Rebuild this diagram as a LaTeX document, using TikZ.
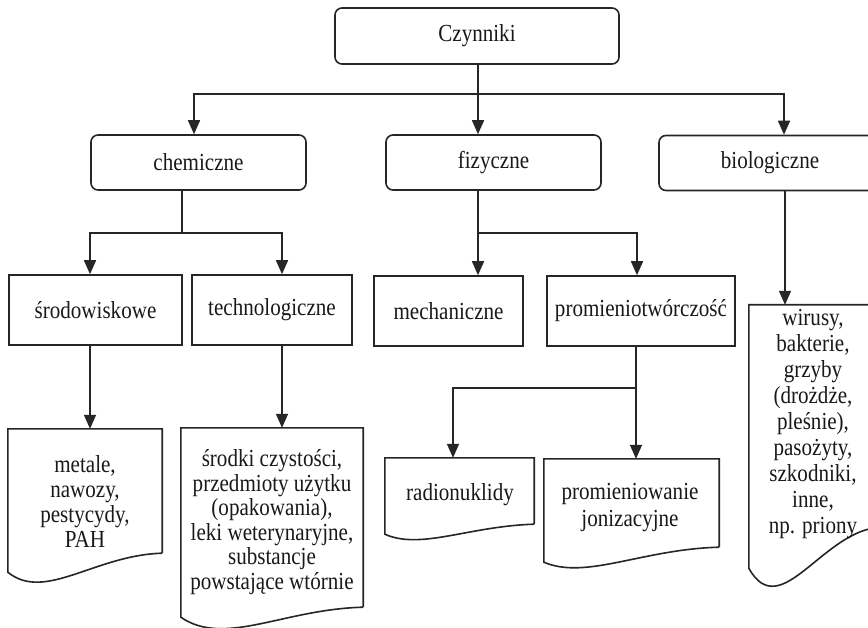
\documentclass[tikz,border=0pt]{standalone}
\usepackage{fontspec}
\setmainfont[FakeStretch=0.86]{Liberation Serif}
\usetikzlibrary{arrows.meta,calc}
\newcommand\docshape[3]{%
\draw[ln] (#1.south east) -- (#1.north east) -- (#1.north west) -- ([yshift=-#2pt]#1.south west)
  .. controls ($(#1.south west)!0.24!(#1.south east)+(0,#2+#3)$) and ($(#1.south west)!0.56!(#1.south east)+(0,2)$) .. (#1.south east);}
\begin{document}
\begin{tikzpicture}[x=1pt,y=-1pt,
  ln/.style={draw=black!85, line width=1.6pt},
  arr/.style={ln, -{Triangle[length=14pt,width=12pt]}},
  rbox/.style={ln, rounded corners=7pt, inner sep=0pt, text=black!90, font=\fontsize{24.5}{25}\selectfont},
  sbox/.style={ln, inner sep=0pt, text=black!90, font=\fontsize{24.5}{25}\selectfont},
  docb/.style={inner sep=0pt},
  txt/.style={align=center, inner sep=0pt, text=black!90, font=\fontsize{24.5}{25}\selectfont}]
\useasboundingbox (0,0) rectangle (868,628);
\fill[white] (0,0) rectangle (868,628);
\clip (0,0) rectangle (868,628);
% level 0
\node[rbox, minimum width=284pt, minimum height=56pt] (czy) at (477,36) {Czynniki};
% level 1
\node[rbox, minimum width=215pt, minimum height=55pt] (chem) at (198.5,162.5) {chemiczne};
\node[rbox, minimum width=215pt, minimum height=55pt] (fiz) at (493.5,162.5) {fizyczne};
\node[rbox, minimum width=222pt, minimum height=55pt] (bio) at (770,163) {biologiczne};
% level 2
\node[sbox, minimum width=173pt, minimum height=70pt] (srod) at (95.5,310) {środowiskowe};
\node[sbox, minimum width=160pt, minimum height=70pt] (tech) at (272,310) {technologiczne};
\node[sbox, minimum width=149pt, minimum height=70pt] (mech) at (448.5,311) {mechaniczne};
\node[sbox, minimum width=188pt, minimum height=70pt] (prom) at (641,311) {promieniotwórczość};
% documents
\node[docb, minimum width=154pt, minimum height=124pt] (metB) at (85,491) {};
\node[docb, minimum width=182pt, minimum height=179pt] (techB) at (272,517.5) {};
\node[docb, minimum width=149pt, minimum height=66pt] (radB) at (459.5,491) {};
\node[docb, minimum width=175pt, minimum height=88pt] (promB) at (631.5,503) {};
\node[docb, minimum width=132pt, minimum height=222pt] (bioB) at (815,416) {};
\docshape{metB}{19}{30}
\docshape{techB}{10}{30}
\docshape{radB}{10}{16}
\docshape{promB}{15}{18}
\docshape{bioB}{41}{57}
\node[txt] (metT) at (85,501) {metale,\\nawozy,\\pestycydy,\\PAH};
\node[txt, font=\fontsize{24.5}{24.6}\selectfont] (techT) at (272,522) {środki czystości,\\przedmioty użytku\\(opakowania),\\leki weterynaryjne,\\substancje\\powstające wtórnie};
\node[txt] (radT) at (460,495) {radionuklidy};
\node[txt, font=\fontsize{24.5}{27}\selectfont] (promT) at (630,508) {promieniowanie\\jonizacyjne};
\node[txt, font=\fontsize{24.5}{26}\selectfont] (bioT) at (813,424) {wirusy,\\bakterie,\\grzyby\\(drożdże,\\pleśnie),\\pasożyty,\\szkodniki,\\inne,\\np. priony};
% connectors
\draw[ln] ([xshift=1pt]czy.south) -- ++(0,29) coordinate (t1);
\draw[arr] (t1) -| ([xshift=-4.5pt]chem.north);
\draw[arr] (t1) -- (fiz.north -| t1);
\draw[arr] (t1) -| ([xshift=14pt]bio.north);
\draw[ln] ([xshift=-16.5pt]chem.south) -- ++(0,42) coordinate (t2);
\draw[arr] (t2) -| ([xshift=-5.5pt]srod.north);
\draw[arr] (t2) -| ([xshift=10pt]tech.north);
\draw[ln] ([xshift=-15.5pt]fiz.south) -- ++(0,42) coordinate (t3);
\draw[arr] (t3) -- (mech.north -| t3);
\draw[arr] (t3) -| ([xshift=-4pt]prom.north);
\draw[arr] ([xshift=15pt]bio.south) -- ([xshift=15pt]bio.south |- bioB.north);
\draw[arr] ([xshift=-5.5pt]srod.south) -- ([xshift=-5.5pt]srod.south |- metB.north);
\draw[arr] ([xshift=10pt]tech.south) -- ([xshift=10pt]tech.south |- techB.north);
\draw[ln] ([xshift=-5pt]prom.south) -- ++(0,41) coordinate (t4);
\draw[arr] (t4) -| ([xshift=-6.5pt]radB.north);
\draw[arr] (t4) -- (t4 |- promB.north);
\end{tikzpicture}
\end{document}
